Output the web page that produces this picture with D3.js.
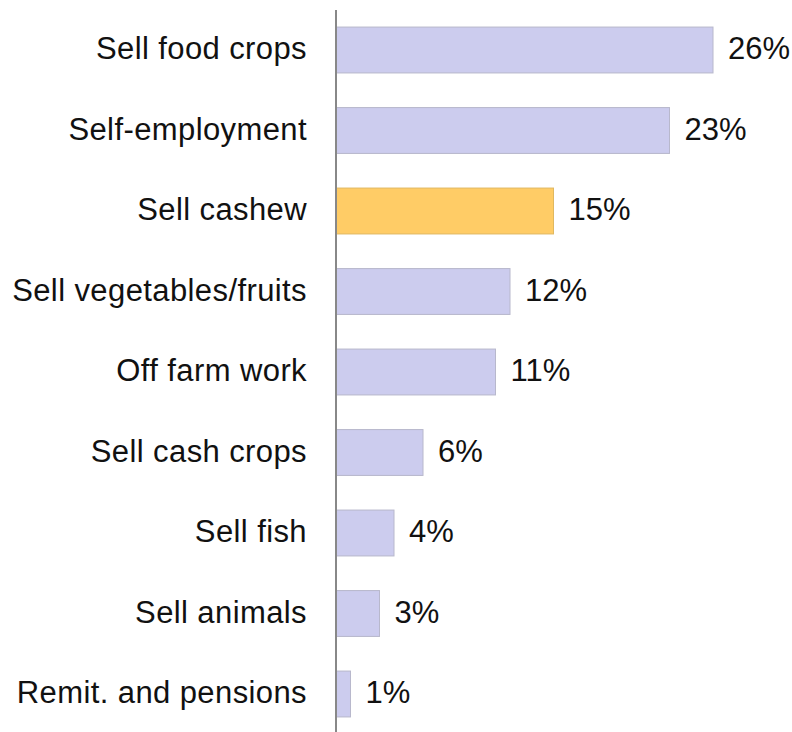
<!DOCTYPE html>
<html>
<head>
<meta charset="utf-8">
<script src="https://cdn.jsdelivr.net/npm/d3@7"></script>
<style>
  html, body { margin: 0; padding: 0; background: #fff; }
  svg { display: block; }
</style>
</head>
<body>
<svg id="chart" width="792" height="732"></svg>
<script>
// Income sources, share of households (%)
const categories = [
  "Sell food crops",
  "Self-employment",
  "Sell cashew",
  "Sell vegetables/fruits",
  "Off farm work",
  "Sell cash crops",
  "Sell fish",
  "Sell animals",
  "Remit. and pensions"
];
const values = [26, 23, 15, 12, 11, 6, 4, 3, 1];
const highlighted = ["Sell cashew"];

const svg = d3.select("#chart");
const x0 = 336;
const fontFamily = "Liberation Sans, Arial, sans-serif";
const fontSize = 31;

const x = d3.scaleLinear().domain([0, 26]).range([x0, 713]);
const y = d3.scaleBand()
  .domain(categories)
  .range([9.75, 734.25])
  .paddingInner(0.43)
  .paddingOuter(0.215);

const rows = categories.map((c, i) => ({ cat: c, val: values[i] }));

// Bars
svg.append("g").selectAll("rect")
  .data(rows)
  .join("rect")
  .attr("x", x(0))
  .attr("y", d => y(d.cat))
  .attr("width", d => x(d.val) - x(0))
  .attr("height", y.bandwidth())
  .attr("fill", d => highlighted.includes(d.cat) ? "#ffcc66" : "#ccccee")
  .attr("stroke", d => highlighted.includes(d.cat) ? "#e0b860" : "#b8b8cc")
  .attr("stroke-width", 1);

// Value labels
svg.append("g").selectAll("text")
  .data(rows)
  .join("text")
  .attr("x", d => x(d.val) + 15)
  .attr("y", d => y(d.cat) + y.bandwidth() / 2)
  .attr("dy", "0.3em")
  .attr("font-family", fontFamily)
  .attr("font-size", fontSize)
  .attr("fill", "#111")
  .text(d => d.val + "%");

// Category axis
const axis = d3.axisLeft(y).tickSize(0).tickPadding(29);
const gAxis = svg.append("g")
  .attr("transform", `translate(${x0},0)`)
  .call(axis);
gAxis.select(".domain").remove();
gAxis.selectAll("text")
  .attr("dy", "0.3em")
  .attr("font-family", fontFamily)
  .attr("font-size", fontSize)
  .attr("letter-spacing", 0.4)
  .attr("fill", "#111");

svg.append("line")
  .attr("x1", x0).attr("x2", x0)
  .attr("y1", 10).attr("y2", 732)
  .attr("stroke", "#888")
  .attr("stroke-width", 2);
</script>
</body>
</html>
